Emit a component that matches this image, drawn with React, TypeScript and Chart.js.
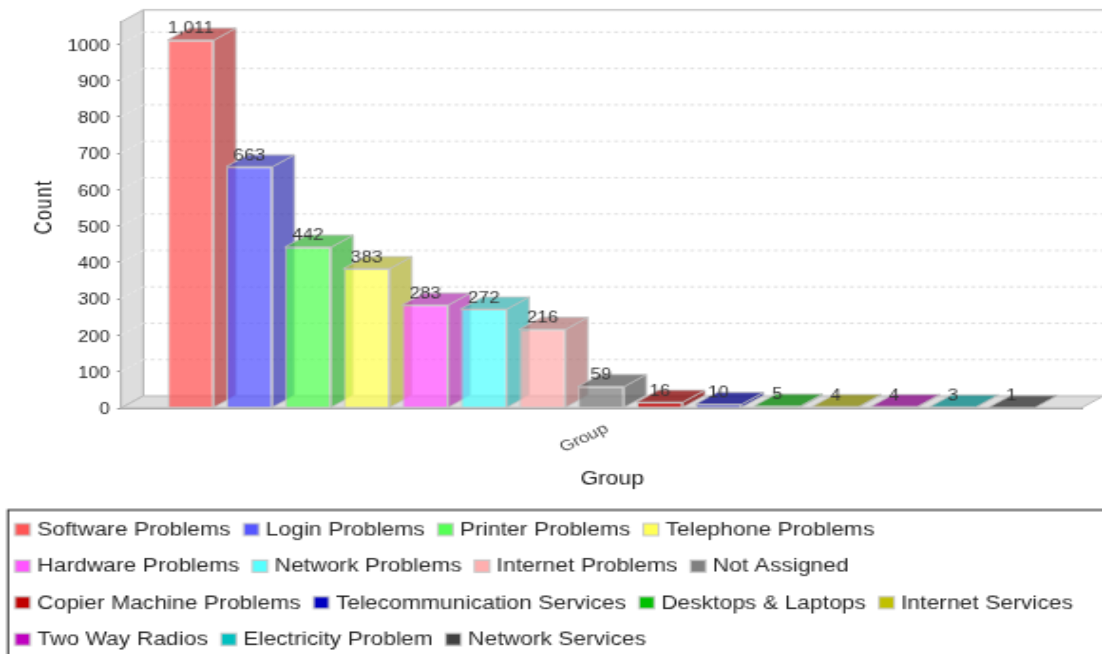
import React, { useEffect, useRef } from "react";
import { Chart, registerables } from "chart.js";

Chart.register(...registerables);

const seriesNames = [
  "Software Problems", "Login Problems", "Printer Problems", "Telephone Problems",
  "Hardware Problems", "Network Problems", "Internet Problems", "Not Assigned",
  "Copier Machine Problems", "Telecommunication Services", "Desktops & Laptops", "Internet Services",
  "Two Way Radios", "Electricity Problem", "Network Services",
];
const seriesValues = [1011, 663, 442, 383, 283, 272, 216, 59, 16, 10, 5, 4, 4, 3, 1];
const seriesColors = [
  [255, 85, 85], [85, 85, 255], [85, 255, 85], [255, 255, 85],
  [255, 85, 255], [85, 255, 255], [255, 175, 175], [128, 128, 128],
  [192, 0, 0], [0, 0, 192], [0, 192, 0], [192, 192, 0],
  [192, 0, 192], [0, 192, 192], [64, 64, 64],
];
const categories = ["Group"];
const yAxisMax = 1060.6;
const yTickStep = 100;
const xAxisTitle = "Group";
const yAxisTitle = "Count";

const FONT = "'Liberation Sans', Arial, sans-serif";
const DEPTH_X = 11.6;
const DEPTH_Y = 8;
const ALPHA = 0.75;
const EDGE = `rgba(192,192,192,${ALPHA})`;
const WALL_FILL = "#dddddd";
const WALL_EDGE = "#b8b8b8";

const rgba = (c: number[], a: number, k = 1) =>
  `rgba(${Math.round(c[0] * k)},${Math.round(c[1] * k)},${Math.round(c[2] * k)},${a})`;

function poly(ctx: CanvasRenderingContext2D, pts: number[][], fill: string | null, stroke: string | null) {
  ctx.beginPath();
  pts.forEach((p, i) => (i ? ctx.lineTo(p[0], p[1]) : ctx.moveTo(p[0], p[1])));
  ctx.closePath();
  if (fill) {
    ctx.fillStyle = fill;
    ctx.fill();
  }
  if (stroke) {
    ctx.strokeStyle = stroke;
    ctx.lineWidth = 1;
    ctx.stroke();
  }
}

const backdrop = {
  id: "backdrop3d",
  beforeDatasetsDraw(chart: any) {
    const { ctx, chartArea: a, scales } = chart;
    const W = chart.width + 4;
    ctx.save();
    // back plane top and left edges
    ctx.strokeStyle = WALL_EDGE;
    ctx.lineWidth = 1;
    ctx.beginPath();
    ctx.moveTo(a.left + DEPTH_X, a.bottom - DEPTH_Y);
    ctx.lineTo(a.left + DEPTH_X, a.top - DEPTH_Y);
    ctx.lineTo(W, a.top - DEPTH_Y);
    ctx.stroke();
    // left wall
    poly(ctx, [
      [a.left, a.top], [a.left + DEPTH_X, a.top - DEPTH_Y],
      [a.left + DEPTH_X, a.bottom - DEPTH_Y], [a.left, a.bottom],
    ], WALL_FILL, WALL_EDGE);
    // floor
    poly(ctx, [
      [a.left, a.bottom], [a.left + DEPTH_X, a.bottom - DEPTH_Y],
      [a.right + DEPTH_X, a.bottom - DEPTH_Y], [a.right, a.bottom],
    ], WALL_FILL, WALL_EDGE);
    // grid lines, on the back plane and across the wall
    for (const t of scales.y.ticks) {
      if (t.value === 0) continue;
      const py = scales.y.getPixelForValue(t.value);
      ctx.setLineDash([2, 2]);
      ctx.strokeStyle = "#dcdcdc";
      ctx.beginPath();
      ctx.moveTo(a.left + DEPTH_X, py - DEPTH_Y);
      ctx.lineTo(W, py - DEPTH_Y);
      ctx.stroke();
      ctx.strokeStyle = "#ececec";
      ctx.beginPath();
      ctx.moveTo(a.left, py);
      ctx.lineTo(a.left + DEPTH_X, py - DEPTH_Y);
      ctx.stroke();
      ctx.setLineDash([]);
    }
    ctx.restore();
  },
};

function drawFaces(ctx: CanvasRenderingContext2D, bar: any, c: number[]) {
  const x0 = bar.x - bar.width / 2;
  const x1 = bar.x + bar.width / 2;
  poly(ctx, [
    [x1, bar.y], [x1 + DEPTH_X, bar.y - DEPTH_Y],
    [x1 + DEPTH_X, bar.base - DEPTH_Y], [x1, bar.base],
  ], rgba(c, ALPHA, 0.7), EDGE);
  poly(ctx, [
    [x0, bar.y], [x0 + DEPTH_X, bar.y - DEPTH_Y],
    [x1 + DEPTH_X, bar.y - DEPTH_Y], [x1, bar.y],
  ], rgba(c, ALPHA, 0.7), EDGE);
}

const overlays = {
  id: "overlays",
  // the library paints the last dataset first; here the bars go left to right,
  // so that each bar covers the depth faces of the one before it
  beforeDatasetDraw() {
    return false;
  },
  afterDatasetsDraw(chart: any) {
    const { ctx, chartArea: a } = chart;
    ctx.save();
    seriesValues.forEach((_, i) => {
      const meta = chart.getDatasetMeta(i);
      meta.data[0].draw(ctx);
      drawFaces(ctx, meta.data[0], seriesColors[i]);
    });
    // value labels
    ctx.font = `10px ${FONT}`;
    ctx.fillStyle = "#333";
    ctx.textAlign = "center";
    ctx.textBaseline = "alphabetic";
    seriesValues.forEach((v, i) => {
      const bar = chart.getDatasetMeta(i).data[0];
      ctx.fillText(v.toLocaleString("en-US"), bar.x, bar.y - 4.5);
    });
    // axis titles, centred on the whole plot including its depth
    ctx.font = `12px ${FONT}`;
    ctx.fillStyle = "#111";
    ctx.textBaseline = "middle";
    ctx.fillText(xAxisTitle, (a.left + a.right + DEPTH_X) / 2, 319.5);
    ctx.save();
    ctx.translate(23.3, (a.top - DEPTH_Y + a.bottom) / 2 - 1.3);
    ctx.rotate(-Math.PI / 2);
    (ctx as any).letterSpacing = "0.9px";
    ctx.fillText(yAxisTitle, 0, 0);
    ctx.restore();
    // legend
    const frame = { left: 4.2, top: 340 };
    ctx.strokeStyle = "#222";
    ctx.lineWidth = 1;
    ctx.strokeRect(frame.left, frame.top, chart.width + 20, 200);
    ctx.font = `12px ${FONT}`;
    (ctx as any).letterSpacing = "0.03px";
    ctx.textAlign = "left";
    let x = 7.9;
    let row = 0;
    const limit = chart.width - 4;
    seriesNames.forEach((name, i) => {
      const w = ctx.measureText(name).width;
      if (x + 11.6 + w > limit) {
        x = 7.9;
        row += 1;
      }
      const cy = 353 + row * 24.4;
      ctx.fillStyle = rgba(seriesColors[i], 1);
      ctx.strokeStyle = "#c8c8c8";
      ctx.fillRect(x, cy - 4, 8, 8);
      ctx.strokeRect(x, cy - 4, 8, 8);
      ctx.fillStyle = "#222";
      ctx.fillText(name, x + 11.6, cy + 0.5);
      x += 11.6 + w + 6.8;
    });
    ctx.restore();
  },
};

export default function App() {
  const ref = useRef<HTMLCanvasElement>(null);
  useEffect(() => {
    const chart = new Chart(ref.current!, {
      type: "bar",
      data: {
        labels: categories,
        datasets: seriesNames.map((name, i) => ({
          label: name,
          data: [seriesValues[i]],
          backgroundColor: rgba(seriesColors[i], ALPHA),
          borderColor: EDGE,
          borderWidth: 1,
        })),
      },
      options: {
        animation: false,
        responsive: false,
        categoryPercentage: 0.916,
        barPercentage: 0.79,
        layout: { padding: { left: 0, top: 14.67, right: 13, bottom: 114 } },
        plugins: { legend: { display: false }, tooltip: { enabled: false }, title: { display: false } },
        scales: {
          x: {
            grid: { display: false },
            border: { color: "#999999" },
            afterFit: (s: any) => { s.height = 50; },
            ticks: {
              font: { size: 10, family: FONT },
              color: "#444",
              minRotation: 30,
              maxRotation: 30,
              padding: 0,
              labelOffset: 3,
            },
          },
          y: {
            min: 0,
            max: yAxisMax,
            afterFit: (s: any) => { s.width = 63.7; },
            border: { color: "#999999" },
            grid: { drawOnChartArea: false, drawTicks: true, tickLength: 2, color: "#888888" },
            ticks: {
              stepSize: yTickStep,
              includeBounds: false,
              padding: 4,
              labelOffset: 1.5,
              callback: (v: any) => String(v),
              font: { size: 10, family: FONT },
              color: "#222",
            },
          },
        },
      },
      plugins: [backdrop, overlays],
    } as any);
    return () => chart.destroy();
  }, []);
  return (
    <div style={{ position: "absolute", left: 0, top: 0, width: 1102, height: 654, overflow: "hidden", background: "#fff" }}>
      <canvas
        ref={ref}
        width={582}
        height={436}
        style={{ display: "block", transform: "scale(1.9, 1.5)", transformOrigin: "0 0" }}
      />
    </div>
  );
}
